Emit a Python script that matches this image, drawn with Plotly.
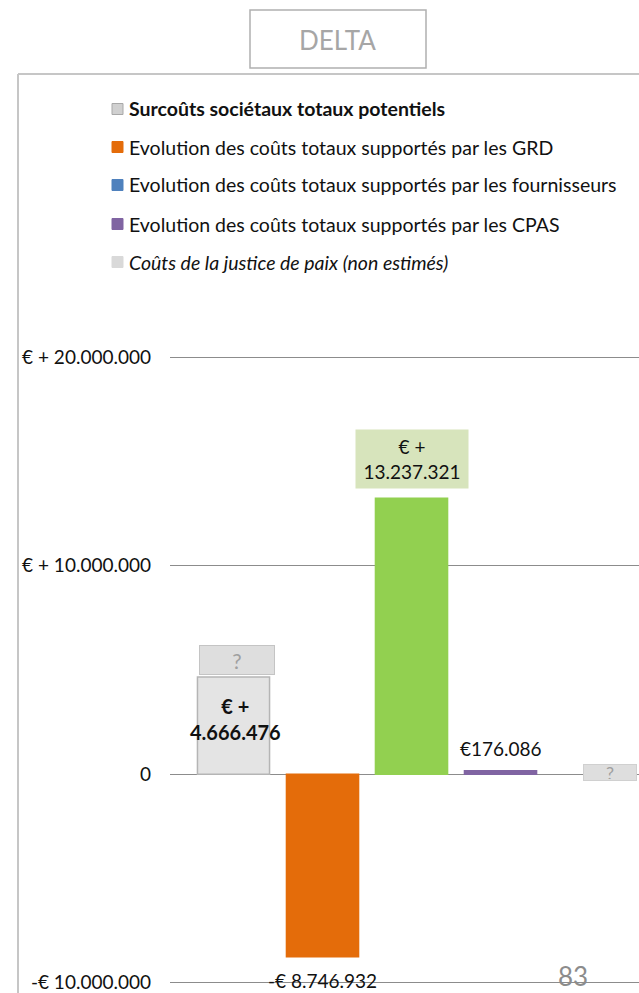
import plotly.graph_objects as go

# ---- data -------------------------------------------------------------
categories = [
    "Surcoûts sociétaux totaux potentiels",
    "Evolution des coûts totaux supportés par les GRD",
    "Evolution des coûts totaux supportés par les fournisseurs",
    "Evolution des coûts totaux supportés par les CPAS",
    "Coûts de la justice de paix (non estimés)",
]
values = [4666476, -8746932, 13237321, 176086, None]
bar_colors = ["#E4E4E4", "#E46C0A", "#92D050", "#8064A2", "#D9D9D9"]
bar_lines = ["#B5B5B5", "#E46C0A", "#92D050", "#8064A2", "#D9D9D9"]

legend_labels = [
    "<b>Surcoûts sociétaux totaux potentiels</b>",
    "Evolution des coûts totaux supportés par les GRD",
    "Evolution des coûts totaux supportés par les fournisseurs",
    "Evolution des coûts totaux supportés par les CPAS",
    "<i>Coûts de la justice de paix (non estimés)</i>",
]
legend_colors = ["#D0D0D0", "#E46C0A", "#4F81BD", "#8064A2", "#D9D9D9"]

tick_vals = [-10000000, 0, 10000000, 20000000]
tick_text = ["-€ 10.000.000", "0", "€ + 10.000.000", "€ + 20.000.000"]

FONT = "Lato"
W, H = 639, 993
ML, MR, MT, MB = 170, 0, 351, 6


def eu(v):
    return f"{abs(int(v)):,}".replace(",", ".")


def px(x):
    return (x - ML) / (W - ML - MR)


def py(y):
    return (H - MB - y) / (H - MT - MB)


fig = go.Figure()
fig.add_trace(go.Bar(
    x=categories, y=values, width=0.81,
    marker=dict(color=bar_colors, line=dict(color=bar_lines, width=1.5)),
    showlegend=False, hoverinfo="skip",
))

ann = []
# value labels
ann.append(dict(x=categories[0], y=values[0] / 2, yref="y", xref="x",
                text="<b>€ +<br>" + eu(values[0]) + "</b>", showarrow=False,
                font=dict(family=FONT, size=20, color="#111"), yshift=7, xshift=2))
ann.append(dict(x=categories[0], y=values[0], xref="x", yref="y", text="?",
                showarrow=False, yanchor="bottom", yshift=2, xshift=3,
                width=72, height=26, bgcolor="#DEDEDE", bordercolor="#C4C4C4",
                borderwidth=1, font=dict(family=FONT, size=21, color="#A0A0A0")))
ann.append(dict(x=categories[1], y=values[1], xref="x", yref="y",
                text="-€ " + eu(values[1]), showarrow=False, yanchor="top",
                yshift=-10, font=dict(family=FONT, size=19, color="#111")))
ann.append(dict(x=categories[2], y=values[2], xref="x", yref="y",
                text="€ +<br>" + eu(values[2]), showarrow=False, yanchor="bottom",
                yshift=9, width=110, height=56, bgcolor="#D7E4BC",
                font=dict(family=FONT, size=19, color="#111")))
ann.append(dict(x=categories[3], y=values[3], xref="x", yref="y",
                text="€" + eu(values[3]), showarrow=False, yanchor="bottom",
                yshift=9, font=dict(family=FONT, size=19, color="#111")))
ann.append(dict(x=categories[4], y=0, xref="x", yref="y", text="?",
                showarrow=False, yanchor="middle", xshift=20, yshift=2,
                width=50, height=13, bgcolor="#DEDEDE", bordercolor="#D0D0D0",
                borderwidth=1, font=dict(family=FONT, size=18, color="#A0A0A0")))

shapes = []
# legend
rows_y = [109, 147, 185, 224, 262]
for lab, col, yy in zip(legend_labels, legend_colors, rows_y):
    shapes.append(dict(type="rect", xref="paper", yref="paper",
                       x0=px(112), x1=px(123), y0=py(yy + 5.5), y1=py(yy - 5.5),
                       fillcolor=col,
                       line=dict(color="#A8A8A8" if col == "#D0D0D0" else col, width=1)))
    ann.append(dict(x=px(127), y=py(yy), xref="paper", yref="paper", text=lab,
                    showarrow=False, xanchor="left", yanchor="middle",
                    font=dict(family=FONT, size=19.5, color="#111")))

# frame
shapes.append(dict(type="line", xref="paper", yref="paper", x0=px(18), x1=px(640),
                   y0=py(74), y1=py(74), line=dict(color="#C6C6C6", width=2)))
shapes.append(dict(type="line", xref="paper", yref="paper", x0=px(18), x1=px(18),
                   y0=py(74), y1=py(995), line=dict(color="#C6C6C6", width=2)))
# title box
shapes.append(dict(type="rect", xref="paper", yref="paper", x0=px(250), x1=px(426),
                   y0=py(68), y1=py(10), line=dict(color="#B0B0B0", width=1.5),
                   fillcolor="white"))
ann.append(dict(x=px(337), y=py(40), xref="paper", yref="paper", text="DELTA",
                showarrow=False, xanchor="center", yanchor="middle",
                font=dict(family=FONT, size=26, color="#A6A6A6")))
# page number
ann.append(dict(x=px(573), y=py(976), xref="paper", yref="paper", text="83",
                showarrow=False, xanchor="center", yanchor="middle",
                font=dict(family=FONT, size=26, color="#8C8C8C")))

fig.update_layout(
    width=W, height=H, margin=dict(l=ML, r=MR, t=MT, b=MB),
    paper_bgcolor="white", plot_bgcolor="white",
    showlegend=False, annotations=ann, shapes=shapes,
    xaxis=dict(type="category", range=[-0.7135, 4.556], showticklabels=False,
               showgrid=False, zeroline=False, showline=False, ticks=""),
    yaxis=dict(range=[-10200000, 20300000], tickvals=tick_vals, ticktext=tick_text,
               showgrid=True, gridcolor="#8C8C8C", gridwidth=1,
               zeroline=True, zerolinecolor="#8C8C8C", zerolinewidth=1,
               showline=False, ticks="", ticklabelstandoff=18,
               ticklabeloverflow="allow",
               tickfont=dict(family=FONT, size=19, color="#111")),
)

fig.write_html("out.html")
